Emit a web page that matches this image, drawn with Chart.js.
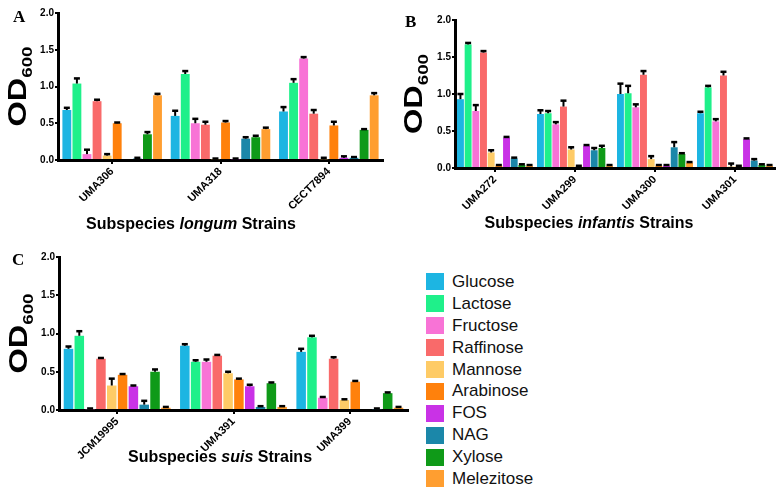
<!DOCTYPE html>
<html lang="en">
<head>
  <meta charset="UTF-8">
  <title>Sugar growth OD600</title>
  <script src="https://cdn.jsdelivr.net/npm/chart.js"></script>
  <style>
    body { margin: 0; background: #fff; width: 782px; height: 489px; position: relative; overflow: hidden; font-family: Arial, "Liberation Sans", sans-serif; }
    .panel { position: absolute; }
    .letter { position: absolute; font-family: "Liberation Serif", serif; font-weight: bold; font-size: 17px; }
    #legend { position: absolute; left: 426px; top: 271px; }
    .legend-row { display: flex; align-items: center; height: 21.9px; }
    .legend-box { width: 18px; height: 17px; margin-right: 8px; }
    .legend-label { font-size: 17px; color: #111; }
  </style>
</head>
<body>
  <div class="panel" style="left:0;top:0"><canvas id="chartA" width="390" height="235"></canvas></div>
  <div class="panel" style="left:390px;top:0"><canvas id="chartB" width="392" height="235"></canvas></div>
  <div class="panel" style="left:0;top:240px"><canvas id="chartC" width="414" height="249"></canvas></div>
  <div class="letter" style="left:13px;top:7px">A</div>
  <div class="letter" style="left:405px;top:12px">B</div>
  <div class="letter" style="left:12px;top:250px">C</div>
  <div id="legend"></div>

  <script>
    // Carbon sources, one bar each per strain
    const sugars = ['Glucose', 'Lactose', 'Fructose', 'Raffinose', 'Mannose', 'Arabinose', 'FOS', 'NAG', 'Xylose', 'Melezitose'];
    const sugarColors = ['#1db5e2', '#1ff08a', '#f873d6', '#f96a6a', '#fecb66', '#ff810c', '#c932e6', '#1b87a9', '#0f9a18', '#ff9e30'];
    const yTicks = [0, 0.5, 1.0, 1.5, 2.0];

    // Panel A - subspecies longum (values per strain, in sugar order)
    const longumStrains = ['UMA306', 'UMA318', 'CECT7894'];
    const longumOD = [
      [0.68, 1.04, 0.08, 0.80, 0.06, 0.50, 0.00, 0.02, 0.35, 0.88],
      [0.60, 1.17, 0.50, 0.48, 0.01, 0.51, 0.01, 0.29, 0.31, 0.42],
      [0.66, 1.05, 1.38, 0.63, 0.01, 0.47, 0.03, 0.03, 0.41, 0.88]
    ];
    const longumErr = [
      [0.03, 0.07, 0.06, 0.02, 0.02, 0.01, 0.00, 0.01, 0.03, 0.02],
      [0.07, 0.04, 0.06, 0.04, 0.01, 0.02, 0.01, 0.02, 0.02, 0.02],
      [0.06, 0.05, 0.02, 0.05, 0.02, 0.05, 0.02, 0.01, 0.01, 0.03]
    ];

    // Panel B - subspecies infantis
    const infantisStrains = ['UMA272', 'UMA299', 'UMA300', 'UMA301'];
    const infantisOD = [
      [0.93, 1.67, 0.77, 1.56, 0.21, 0.03, 0.41, 0.13, 0.04, 0.03],
      [0.73, 0.74, 0.59, 0.83, 0.25, 0.02, 0.30, 0.24, 0.27, 0.03],
      [1.00, 1.01, 0.82, 1.26, 0.12, 0.03, 0.03, 0.28, 0.19, 0.07],
      [0.74, 1.09, 0.63, 1.25, 0.02, 0.02, 0.39, 0.10, 0.04, 0.03]
    ];
    const infantisErr = [
      [0.07, 0.02, 0.08, 0.02, 0.03, 0.01, 0.01, 0.01, 0.01, 0.01],
      [0.05, 0.03, 0.03, 0.08, 0.03, 0.01, 0.01, 0.03, 0.03, 0.01],
      [0.14, 0.10, 0.04, 0.05, 0.04, 0.01, 0.01, 0.07, 0.01, 0.01],
      [0.02, 0.02, 0.03, 0.05, 0.04, 0.01, 0.01, 0.02, 0.01, 0.01]
    ];

    // Panel C - subspecies suis
    const suisStrains = ['JCM19995', 'UMA391', 'UMA399'];
    const suisOD = [
      [0.80, 0.97, 0.01, 0.67, 0.32, 0.46, 0.31, 0.07, 0.50, 0.03],
      [0.84, 0.63, 0.63, 0.71, 0.48, 0.40, 0.31, 0.04, 0.35, 0.04],
      [0.76, 0.95, 0.16, 0.67, 0.13, 0.37, 0.00, 0.01, 0.22, 0.03]
    ];
    const suisErr = [
      [0.03, 0.06, 0.01, 0.01, 0.09, 0.01, 0.01, 0.05, 0.03, 0.01],
      [0.02, 0.02, 0.03, 0.01, 0.02, 0.01, 0.02, 0.01, 0.01, 0.01],
      [0.04, 0.02, 0.01, 0.02, 0.01, 0.01, 0.00, 0.01, 0.01, 0.01]
    ];

    // draws the upper error bar on top of each bar
    const errorBars = {
      id: 'errorBars',
      afterDatasetsDraw(chart) {
        const ctx = chart.ctx;
        const y = chart.scales.y;
        ctx.save();
        ctx.strokeStyle = '#000';
        chart.data.datasets.forEach((ds, i) => {
          const meta = chart.getDatasetMeta(i);
          meta.data.forEach((bar, j) => {
            const v = ds.data[j], e = ds.errors[j];
            if (!e) return;
            const top = y.getPixelForValue(v + e);
            ctx.lineWidth = 2;
            ctx.beginPath();
            ctx.moveTo(bar.x, bar.y);
            ctx.lineTo(bar.x, top);
            ctx.stroke();
            ctx.lineWidth = 2.5;
            ctx.beginPath();
            ctx.moveTo(bar.x - 3, top);
            ctx.lineTo(bar.x + 3, top);
            ctx.stroke();
          });
        });
        ctx.restore();
      }
    };

    // OD600 y title and "Subspecies <i>name</i> Strains" x title
    const panelText = {
      id: 'panelText',
      afterDraw(chart, args, opts) {
        const ctx = chart.ctx;
        const area = chart.chartArea;
        ctx.save();
        ctx.fillStyle = '#000';
        // y title, stretched along its length like the original
        ctx.translate(opts.odX, (area.top + area.bottom) / 2);
        ctx.rotate(-Math.PI / 2);
        ctx.scale(1.25, 1);
        ctx.font = 'bold 26px Arial, "Liberation Sans"';
        const odW = ctx.measureText('OD').width;
        ctx.font = 'bold 15px Arial, "Liberation Sans"';
        const subW = ctx.measureText('600').width;
        const x0 = -(odW + subW) / 2;
        ctx.textBaseline = 'alphabetic';
        ctx.font = 'bold 26px Arial, "Liberation Sans"';
        ctx.fillText('OD', x0, 0);
        ctx.font = 'bold 15px Arial, "Liberation Sans"';
        ctx.fillText('600', x0 + odW, 6);
        ctx.restore();

        // x title
        ctx.save();
        ctx.fillStyle = '#000';
        const parts = [['Subspecies ', 'bold 16px Arial, "Liberation Sans"'],
                       [opts.name, 'italic bold 16px Arial, "Liberation Sans"'],
                       [' Strains', 'bold 16px Arial, "Liberation Sans"']];
        let total = 0;
        parts.forEach(p => { ctx.font = p[1]; total += ctx.measureText(p[0]).width; });
        let x = opts.titleX - total / 2;
        ctx.textBaseline = 'alphabetic';
        parts.forEach(p => {
          ctx.font = p[1];
          ctx.fillText(p[0], x, opts.titleY);
          x += ctx.measureText(p[0]).width;
        });
        ctx.restore();
      }
    };

    function makeDatasets(rows, errs, barPct) {
      return sugars.map((s, i) => ({
        label: s,
        data: rows.map(r => r[i]),
        errors: errs.map(r => r[i]),
        backgroundColor: sugarColors[i],
        borderWidth: 0,
        barPercentage: barPct.bar,
        categoryPercentage: barPct.cat
      }));
    }

    function makeChart(id, strains, rows, errs, cfg) {
      new Chart(document.getElementById(id), {
        type: 'bar',
        data: { labels: strains, datasets: makeDatasets(rows, errs, cfg.pct) },
        plugins: [errorBars, panelText],
        options: {
          responsive: false,
          animation: false,
          events: [],
          layout: { padding: { top: cfg.top, right: cfg.right, left: 0, bottom: 0 } },
          plugins: {
            legend: { display: false },
            tooltip: { enabled: false },
            panelText: { odX: cfg.odX, name: cfg.name, titleX: cfg.titleX, titleY: cfg.titleY }
          },
          scales: {
            x: {
              afterFit: s => { s.height = cfg.xH; },
              border: { display: true, color: '#000', width: 3 },
              grid: { display: true, offset: false, drawOnChartArea: false, drawTicks: true, tickLength: 4, color: '#000', lineWidth: 2 },
              ticks: {
                color: '#000',
                autoSkip: false,
                minRotation: 45,
                maxRotation: 45,
                padding: 1,
                font: { family: 'Arial, "Liberation Sans"', weight: 'bold', size: 11 }
              }
            },
            y: {
              min: 0,
              max: 2,
              afterFit: s => { s.width = cfg.yW; },
              afterBuildTicks: s => { s.ticks = yTicks.map(v => ({ value: v })); },
              border: { display: true, color: '#000', width: 3 },
              grid: { display: true, drawOnChartArea: false, drawTicks: true, tickLength: 3, color: '#000', lineWidth: 2 },
              ticks: {
                color: '#000',
                padding: 1,
                font: { family: 'Arial, "Liberation Sans"', weight: 'bold', size: 10 },
                callback: v => Number(v).toFixed(1)
              }
            }
          }
        }
      });
    }

    makeChart('chartA', longumStrains, longumOD, longumErr, {
      top: 13, right: 7, yW: 58, xH: 75, odX: 26, name: 'longum', titleX: 191, titleY: 229,
      pct: { bar: 0.88, cat: 0.93 }
    });
    makeChart('chartB', infantisStrains, infantisOD, infantisErr, {
      top: 20, right: 7, yW: 65, xH: 67, odX: 32, name: 'infantis', titleX: 199, titleY: 228,
      pct: { bar: 0.9, cat: 0.96 }
    });
    makeChart('chartC', suisStrains, suisOD, suisErr, {
      top: 17, right: 6, yW: 59, xH: 79, odX: 27, name: 'suis', titleX: 220, titleY: 222,
      pct: { bar: 0.88, cat: 0.93 }
    });

    // legend, built from the same sugar list
    const legend = document.getElementById('legend');
    sugars.forEach((s, i) => {
      const row = document.createElement('div');
      row.className = 'legend-row';
      row.innerHTML = '<div class="legend-box" style="background:' + sugarColors[i] + '"></div><span class="legend-label">' + s + '</span>';
      legend.appendChild(row);
    });
  </script>
</body>
</html>
